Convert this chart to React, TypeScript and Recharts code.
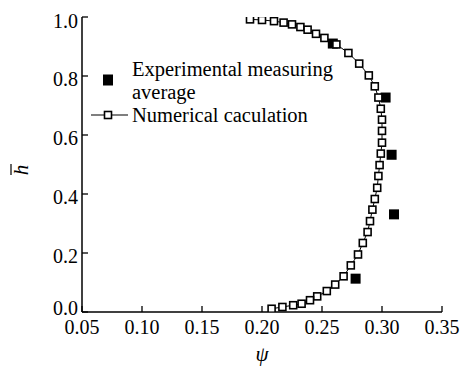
// Velocity ratio profile: numerical calculation (open squares joined by a line)
// against the experimental measuring averages (filled squares).
import { Scatter, ScatterChart, XAxis, YAxis } from "recharts";

const FONT = "Liberation Serif, DejaVu Serif, Times New Roman, serif";

const PSI_TICKS = [0.05, 0.1, 0.15, 0.2, 0.25, 0.3, 0.35];
const H_TICKS = [0, 0.2, 0.4, 0.6, 0.8, 1.0];

// numerical calculation, read top to bottom along the curve
const calcPsi = [
  0.190, 0.200, 0.210, 0.218, 0.225, 0.232, 0.238, 0.245, 0.252, 0.262,
  0.272, 0.281, 0.289, 0.294, 0.297, 0.299, 0.300, 0.300, 0.300, 0.299,
  0.298, 0.297, 0.296, 0.294, 0.292, 0.290, 0.288, 0.284, 0.280, 0.274,
  0.268, 0.261, 0.254, 0.246, 0.240, 0.233, 0.226, 0.217, 0.208,
];
const calcH = [
  0.992, 0.990, 0.986, 0.981, 0.975, 0.966, 0.957, 0.943, 0.929, 0.907,
  0.878, 0.842, 0.802, 0.765, 0.727, 0.689, 0.652, 0.614, 0.574, 0.537,
  0.498, 0.461, 0.421, 0.383, 0.347, 0.308, 0.271, 0.234, 0.195, 0.158,
  0.121, 0.093, 0.071, 0.053, 0.040, 0.028, 0.023, 0.017, 0.011,
];

// experimental measuring average
const expPsi = [0.259, 0.303, 0.308, 0.310, 0.278];
const expH = [0.910, 0.727, 0.533, 0.331, 0.113];

const calc = calcPsi.map((psi, i) => ({ psi, h: calcH[i] }));
const expt = expPsi.map((psi, i) => ({ psi, h: expH[i] }));

const txt = { fontFamily: FONT, fill: "#000" };

function XTick({ x, y, payload }: any) {
  return (
    <g>
      <line x1={x} y1={y} x2={x} y2={y - 6} stroke="#000" strokeWidth={1.3} />
      <text x={x} y={y + 22} textAnchor="middle" fontSize={20} style={txt}>
        {Number(payload.value).toFixed(2)}
      </text>
    </g>
  );
}

function YTick({ x, y, payload }: any) {
  const v = Number(payload.value);
  // the 0.0 label sits a little higher so it clears the x labels
  const dy = v === 0 ? 3 : v === 1 ? 11 : 10;
  return (
    <g>
      <line x1={x} y1={y} x2={x + 6} y2={y} stroke="#000" strokeWidth={1.3} />
      <text x={x - 4} y={y + dy} textAnchor="end" fontSize={20} style={txt}>
        {v.toFixed(1)}
      </text>
    </g>
  );
}

const OpenSquare = (p: any) => (
  <rect x={p.cx - 3.5} y={p.cy - 3.5} width={7} height={7} fill="#fff" stroke="#000" strokeWidth={1.6} />
);
const FilledSquare = (p: any) => (
  <rect x={p.cx - 5} y={p.cy - 5} width={10} height={10} fill="#000" />
);

export default function App() {
  return (
    <div style={{ position: "absolute", left: 0, top: 0, width: 462, height: 371, background: "#fff", fontFamily: FONT }}>
      <ScatterChart width={462} height={371} margin={{ top: 17, right: 20, bottom: 19, left: 0 }}>
        <XAxis type="number" dataKey="psi" domain={[0.05, 0.35]} ticks={PSI_TICKS} interval={0}
          height={40} tickSize={0} tickMargin={0} tick={<XTick />}
          axisLine={{ stroke: "#000", strokeWidth: 1.5 }} allowDataOverflow />
        <YAxis type="number" dataKey="h" domain={[0, 1]} ticks={H_TICKS} interval={0}
          width={82} tickSize={0} tickMargin={0} tick={<YTick />}
          axisLine={{ stroke: "#000", strokeWidth: 1.5 }} allowDataOverflow />
        <Scatter name="Experimental measuring average" data={expt} shape={FilledSquare} isAnimationActive={false} />
        <Scatter name="Numerical caculation" data={calc} shape={OpenSquare}
          line={{ stroke: "#000", strokeWidth: 1 }} isAnimationActive={false} />
      </ScatterChart>
      <svg width={462} height={371} style={{ position: "absolute", left: 0, top: 0, pointerEvents: "none" }}>
        {/* legend */}
        <rect x={103} y={74.5} width={10} height={11} fill="#000" />
        <text x={132} y={76} fontSize={20.5} style={txt}>Experimental measuring</text>
        <text x={132} y={99} fontSize={20.5} style={txt}>average</text>
        <line x1={91} y1={115} x2={128} y2={115} stroke="#000" strokeWidth={1.2} />
        <rect x={104.5} y={111.5} width={7} height={7} fill="#fff" stroke="#000" strokeWidth={1.6} />
        <text x={132} y={122} fontSize={20.5} style={txt}>Numerical caculation</text>
        {/* axis titles */}
        <text x={262} y={361} textAnchor="middle" fontStyle="italic" fontSize={21} style={txt}>ψ</text>
        <g transform="translate(28,170) rotate(-90)">
          <text x={0} y={0} textAnchor="middle" fontStyle="italic" fontSize={21} style={txt}>h</text>
          <line x1={-5} y1={-17} x2={6} y2={-17} stroke="#000" strokeWidth={1.2} />
        </g>
      </svg>
    </div>
  );
}
